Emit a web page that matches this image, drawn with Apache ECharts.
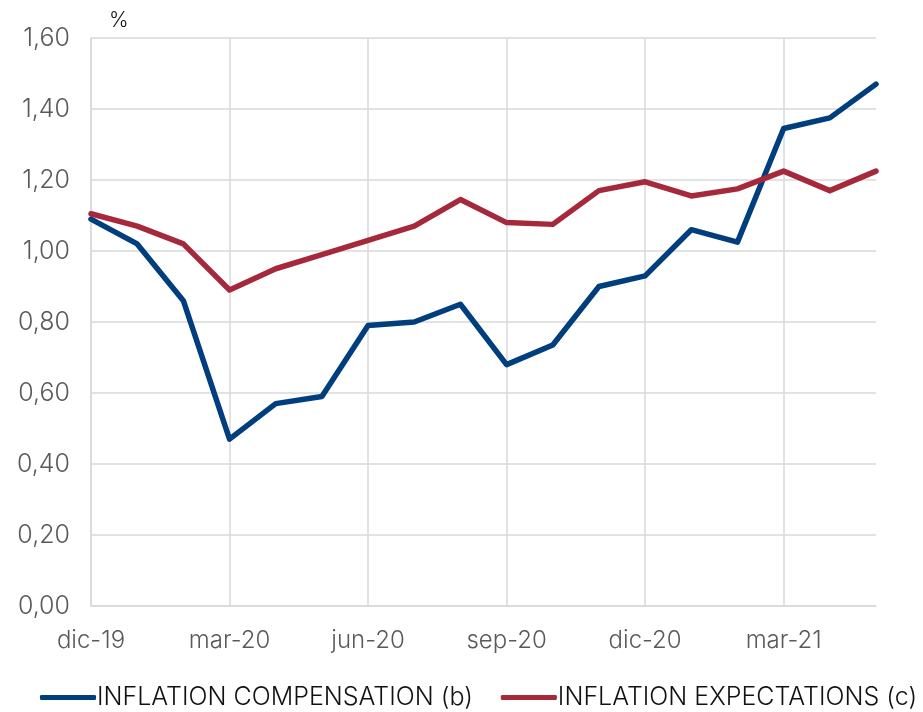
<!DOCTYPE html>
<html>
<head>
<meta charset="utf-8">
<script src="https://cdn.jsdelivr.net/npm/echarts@6/dist/echarts.min.js"></script>
<style>
  html, body { margin: 0; padding: 0; background: #fff; }
  #chart { width: 923px; height: 712px; }
</style>
</head>
<body>
<div id="chart"></div>
<script>
// Monthly observations, Dec 2019 - May 2021
const months = ['dic-19', 'ene-20', 'feb-20', 'mar-20', 'abr-20', 'may-20', 'jun-20', 'jul-20', 'ago-20',
  'sep-20', 'oct-20', 'nov-20', 'dic-20', 'ene-21', 'feb-21', 'mar-21', 'abr-21', 'may-21'];

const compensation = [1.09, 1.02, 0.86, 0.47, 0.57, 0.59, 0.79, 0.80, 0.85,
  0.68, 0.735, 0.90, 0.93, 1.06, 1.025, 1.345, 1.375, 1.47];

const expectations = [1.105, 1.07, 1.02, 0.89, 0.95, 0.99, 1.03, 1.07, 1.145,
  1.08, 1.075, 1.17, 1.195, 1.155, 1.175, 1.225, 1.17, 1.225];

const seriesNames = ['INFLATION COMPENSATION (b)', 'INFLATION EXPECTATIONS (c)'];
const colors = ['#003E7E', '#A5283B'];

const FONT = 'Inter, Roboto, sans-serif';
const chart = echarts.init(document.getElementById('chart'));

chart.setOption({
  animation: false,
  color: colors,
  grid: { left: 91, right: 47, top: 38, bottom: 106, containLabel: false },
  graphic: [{
    type: 'text', left: 109, top: 10,
    style: { text: '%', fontSize: 21, fontWeight: 300, fill: '#111', fontFamily: FONT }
  }],
  legend: {
    bottom: 2, left: 40, width: 900,
    padding: 0,
    itemWidth: 56, itemHeight: 5, itemGap: 28,
    icon: 'roundRect',
    textStyle: { fontSize: 25, fontWeight: 300, color: '#111', fontFamily: FONT, padding: [0, 0, 0, -4] },
    data: seriesNames
  },
  xAxis: {
    type: 'category',
    data: months,
    boundaryGap: false,
    axisLine: { lineStyle: { color: '#d9d9d9', width: 1.5 } },
    axisTick: { show: false },
    axisLabel: { interval: 2, margin: 23, fontSize: 24, fontWeight: 300, color: '#595959', fontFamily: FONT },
    splitLine: { show: true, interval: 2, lineStyle: { color: '#d9d9d9', width: 1.5 } }
  },
  yAxis: {
    type: 'value',
    min: 0, max: 1.6, interval: 0.2,
    axisLine: { show: true, lineStyle: { color: '#d9d9d9', width: 1.5 } },
    axisTick: { show: false },
    axisLabel: {
      margin: 21, fontSize: 25, fontWeight: 300, color: '#595959', fontFamily: FONT,
      formatter: v => v.toFixed(2).replace('.', ',')
    },
    splitLine: { lineStyle: { color: '#d9d9d9', width: 1.5 } }
  },
  series: [
    {
      name: seriesNames[0], type: 'line', data: compensation,
      symbol: 'none', lineStyle: { width: 5.5, cap: 'round', join: 'round' }
    },
    {
      name: seriesNames[1], type: 'line', data: expectations,
      symbol: 'none', lineStyle: { width: 5.5, cap: 'round', join: 'round' }
    }
  ]
});
</script>
</body>
</html>
